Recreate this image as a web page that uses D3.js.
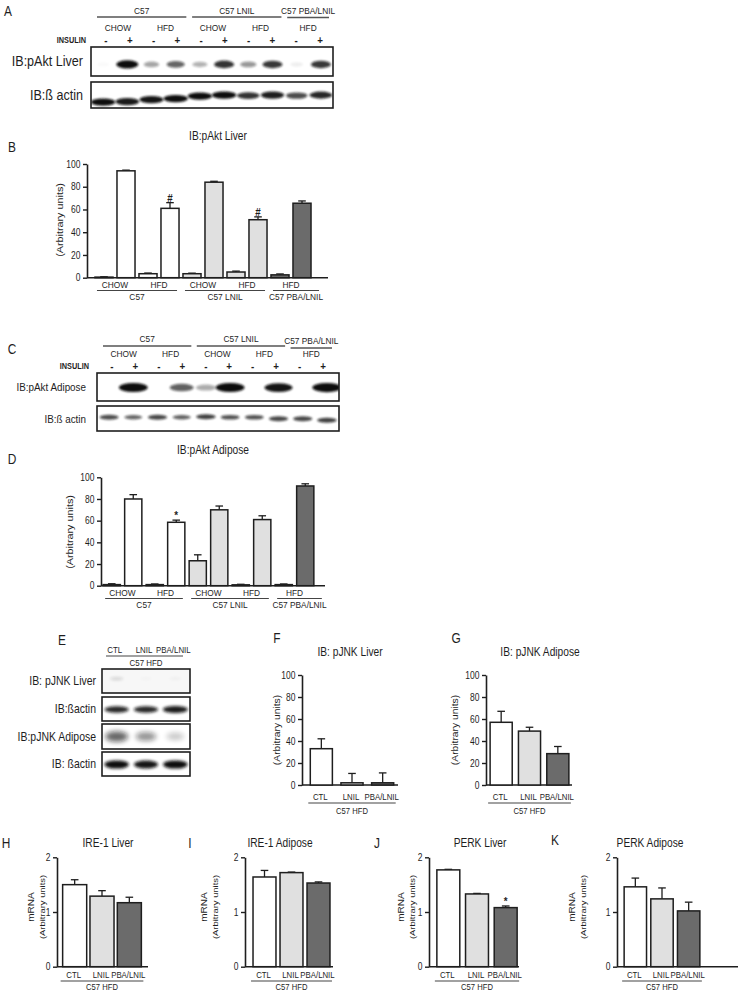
<!DOCTYPE html>
<html><head><meta charset="utf-8">
<script src="https://cdn.jsdelivr.net/npm/d3@7"></script>
<style>
body{margin:0;background:#fff}
svg text{font-family:Arial,"Liberation Sans",Helvetica,sans-serif;fill:#1e1e1e}
</style></head><body>
<svg id="fig" width="740" height="993"></svg>
<script>
// ---------------- DATA ----------------
const strainLabels = ["C57", "C57 LNIL", "C57 PBA/LNIL"];
const strainLaneCounts = [4, 4, 2];
const dietLabels = ["CHOW", "HFD", "CHOW", "HFD", "HFD"];
const insulinSigns = ["-", "+", "-", "+", "-", "+", "-", "+", "-", "+"];
const treatments = ["CTL", "LNIL", "PBA/LNIL"];
const cohortLabel = "C57 HFD";

// western blot band intensities (0..1) per lane
const blotALabels = ["IB:pAkt Liver", "IB:ß actin"];
const pAktLiverBands = [0.02, 1.0, 0.35, 0.6, 0.3, 0.8, 0.4, 0.78, 0.06, 0.78];
const actinLiverBands = [0.95, 0.9, 0.92, 0.95, 0.95, 0.95, 0.8, 0.88, 0.7, 0.85];
const actinLiverDrift = [4, 3.5, 1.5, 0.5, -2, -3, -2.5, -3, -2.5, -3];
const blotCLabels = ["IB:pAkt Adipose", "IB:ß actin"];
const pAktAdiposeBands = [0, 0.98, 0, 0.62, 0.32, 0.98, 0, 0.92, 0, 1.0];
const actinAdiposeBands = [0.7, 0.6, 0.72, 0.62, 0.75, 0.68, 0.68, 0.72, 0.72, 0.75];
const actinAdiposeDrift = [0, 0, 0, 0, -0.5, 0, 0, 1.5, 1.5, 3];
const blotELabels = ["IB: pJNK Liver", "IB:ßactin", "IB:pJNK Adipose", "IB: ßactin"];
const pJNKLiverBands = [0.14, 0.02, 0.03];
const actinE1Bands = [0.85, 0.85, 0.9];
const pJNKAdiposeBands = [0.6, 0.42, 0.2];
const actinE2Bands = [0.95, 0.92, 0.95];

// quantifications
const pAktLiverValues = [0.5, 94, 3.5, 61, 3.5, 84, 5, 51, 2.5, 65.5];
const pAktLiverErrors = [0.3, 0.6, 0.6, 5, 0.5, 0.8, 0.8, 2.5, 0.8, 2];
const pAktLiverMarks = ["", "", "", "#", "", "", "", "#", "", ""];
const pAktAdiposeValues = [1, 80, 1, 58.5, 23, 70, 0.8, 61, 1, 92];
const pAktAdiposeErrors = [0.8, 4, 0.6, 2, 5.5, 3.5, 0.5, 3.5, 0.6, 2];
const pAktAdiposeMarks = ["", "", "", "*", "", "", "", "", "", ""];
const pctTicks = [0, 20, 40, 60, 80, 100];

const pJNKLiverValues = [33, 2, 2];
const pJNKLiverErrors = [9, 8.5, 9];
const pJNKAdiposeValues = [57, 49, 28.5];
const pJNKAdiposeErrors = [10, 3.5, 6.5];

const mrnaTicks = [0, 1, 2];
const ire1LiverValues = [1.5, 1.29, 1.17];
const ire1LiverErrors = [0.09, 0.1, 0.1];
const ire1AdiposeValues = [1.64, 1.72, 1.53];
const ire1AdiposeErrors = [0.12, 0.01, 0.02];
const perkLiverValues = [1.77, 1.33, 1.08];
const perkLiverErrors = [0.01, 0.01, 0.03];
const perkLiverMarks = ["", "", "*"];
const perkAdiposeValues = [1.46, 1.24, 1.02];
const perkAdiposeErrors = [0.16, 0.2, 0.16];

// ---------------- DRAWING ----------------
const svg = d3.select("#fig");
const defs = svg.append("defs");
[1.1, 1.6, 2.4].forEach((s, i) => defs.append("filter").attr("id", "blur" + i)
  .attr("x", "-60%").attr("y", "-150%").attr("width", "220%").attr("height", "400%")
  .append("feGaussianBlur").attr("stdDeviation", s));
const INK = "#1e1e1e";
const COND = 0.85;   // horizontal compression of the original lettering
const fillScale = d3.scaleOrdinal().domain(strainLabels).range(["#ffffff", "#e0e0e0", "#6b6b6b"]);
const treatFill = d3.scaleOrdinal().domain(treatments).range(["#ffffff", "#e0e0e0", "#6b6b6b"]);
const strainOfLane = strainLabels.flatMap((s, i) => d3.range(strainLaneCounts[i]).map(() => s));

function txt(x, y, s, size, anchor = "middle", extra = {}) {
  const t = svg.append("text").attr("x", 0).attr("y", 0).attr("font-size", size)
    .attr("text-anchor", anchor).attr("dominant-baseline", "central").text(s);
  if (extra.weight) t.attr("font-weight", extra.weight);
  if (extra.rotate) t.attr("transform", `translate(${x},${y}) rotate(-90) scale(1,${COND})`);
  else t.attr("transform", `translate(${x},${y}) scale(${extra.plain ? 1 : COND},1)`);
  return t;
}
function hline(x1, x2, y, w = 1.2, color = INK) {
  svg.append("line").attr("x1", x1).attr("x2", x2).attr("y1", y).attr("y2", y)
    .attr("stroke", color).attr("stroke-width", w);
}

// ---- blot header ----
function blotHeader(c) {
  const lx = d3.scalePoint().domain(d3.range(insulinSigns.length)).range(c.signRange);
  let start = 0;
  strainLabels.forEach((s, i) => {
    const a = start, b = start + strainLaneCounts[i] - 1; start += strainLaneCounts[i];
    const xa = lx(a) - c.ext, xb = lx(b) + c.ext;
    txt((xa + xb) / 2, c.yStrain[i], s, 9.8);
    hline(xa, xb, c.yLine[i], 1.3, "#555");
  });
  dietLabels.forEach((d, k) => txt((lx(2 * k) + lx(2 * k + 1)) / 2, c.yDiet, d, 9.8));
  txt(c.insX, c.ySign, "INSULIN", 8.6, "end", {weight: "bold"});
  insulinSigns.forEach((s, i) => txt(lx(i), c.ySign, s, 11.5, "middle", {weight: "bold"}));
}

// ---- blot strip ----
let clipN = 0;
function blot(c) {
  const lane = d3.scaleBand().domain(d3.range(c.bands.length)).range([c.x0, c.x1]);
  const id = "clip" + (clipN++);
  defs.append("clipPath").attr("id", id).append("rect")
    .attr("x", c.x0).attr("y", c.y0).attr("width", c.x1 - c.x0).attr("height", c.y1 - c.y0);
  const g = svg.append("g").attr("clip-path", `url(#${id})`);
  g.append("rect").attr("x", c.x0).attr("y", c.y0).attr("width", c.x1 - c.x0)
    .attr("height", c.y1 - c.y0).attr("fill", c.bg || "#fff");
  g.selectAll("ellipse").data(c.bands).join("ellipse")
    .attr("cx", (d, i) => lane(i) + lane.bandwidth() / 2)
    .attr("cy", (d, i) => c.y0 + (c.y1 - c.y0) * c.yFrac + (c.drift ? c.drift[i] : 0))
    .attr("rx", d => c.rx * (0.55 + 0.45 * d))
    .attr("ry", d => c.ry * (0.5 + 0.5 * d))
    .attr("fill", "#111").attr("opacity", d => Math.min(1, d * 1.05))
    .attr("filter", `url(#blur${c.blur || 0})`);
  svg.append("rect").attr("x", c.x0).attr("y", c.y0).attr("width", c.x1 - c.x0)
    .attr("height", c.y1 - c.y0).attr("fill", "none").attr("stroke", INK).attr("stroke-width", 1.6);
  txt(c.labelX, (c.y0 + c.y1) / 2, c.label, c.labelSize, "end");
}

// ---- bar chart ----
function barChart(c) {
  const y = d3.scaleLinear().domain(c.domain).range([c.yBottom, c.yTop]);
  const x = d3.scaleBand().domain(d3.range(c.values.length)).range(c.band)
    .paddingInner(c.pad).paddingOuter(c.pad / 2);
  const g = svg.append("g");
  const ax = g.append("g").attr("transform", `translate(${c.x0},0)`)
    .call(d3.axisLeft(y).tickValues(c.ticks).tickSize(4).tickSizeOuter(0).tickPadding(2)
      .tickFormat(d3.format("d")));
  ax.select(".domain").attr("stroke", INK).attr("stroke-width", 1.6);
  ax.selectAll(".tick line").attr("stroke", INK).attr("stroke-width", 1.4);
  ax.selectAll(".tick text").attr("font-size", 10).attr("fill", INK)
    .attr("x", 0).attr("transform", `translate(-6.5,0) scale(${COND},1)`)
    .attr("font-family", "Arial, 'Liberation Sans', sans-serif");
  g.append("line").attr("x1", c.x0).attr("x2", c.x1).attr("y1", y(0)).attr("y2", y(0))
    .attr("stroke", INK).attr("stroke-width", 1.6);
  const bw = x.bandwidth();
  g.selectAll(".err").data(c.values).join("g").each(function (v, i) {
    const e = c.errors[i], cx = x(i) + bw / 2;
    const s = d3.select(this);
    s.append("line").attr("x1", cx).attr("x2", cx).attr("y1", y(v)).attr("y2", y(v + e))
      .attr("stroke", INK).attr("stroke-width", 1.3);
    s.append("line").attr("x1", cx - 3.8).attr("x2", cx + 3.8).attr("y1", y(v + e)).attr("y2", y(v + e))
      .attr("stroke", INK).attr("stroke-width", 1.3);
  });
  g.selectAll(".bar").data(c.values).join("rect")
    .attr("x", (d, i) => x(i)).attr("width", bw)
    .attr("y", d => y(d)).attr("height", d => y(0) - y(d))
    .attr("fill", (d, i) => c.fills[i]).attr("stroke", INK).attr("stroke-width", 1.5);
  if (c.marks) c.marks.forEach((m, i) => {
    if (!m) return;
    txt(x(i) + bw / 2, y(c.values[i] + c.errors[i]) - 5, m, 11.5, "middle", {weight: "bold"});
  });
  return {x, y, bw};
}

// ---------------- PANEL A ----------------
txt(8, 11, "A", 14);
blotHeader({signRange: [106, 320], ext: 9, yStrain: [11, 11, 11], yLine: [17, 17, 17.5],
  yDiet: [28], ySign: 40, insX: 86});
blot({x0: 91, x1: 333, y0: 47, y1: 76, bands: pAktLiverBands, rx: 11, ry: 4.2, yFrac: 0.6,
  blur: 0, label: blotALabels[0], labelX: 83, labelSize: 14.8});
blot({x0: 91, x1: 333, y0: 82, y1: 108, bands: actinLiverBands, rx: 12.5, ry: 3.8, yFrac: 0.62,
  drift: actinLiverDrift, blur: 0, label: blotALabels[1], labelX: 83, labelSize: 14.8});

// ---------------- PANEL B ----------------
txt(12, 147, "B", 14);
txt(218, 136, "IB:pAkt Liver", 12);
const B = barChart({x0: 87, x1: 328, yBottom: 277.7, yTop: 164, domain: [0, 100], ticks: pctTicks,
  band: [93, 313], pad: 0.18, values: pAktLiverValues, errors: pAktLiverErrors,
  marks: pAktLiverMarks, fills: strainOfLane.map(s => fillScale(s))});
txt(60, 220, "(Arbitrary units)", 10.8, "middle", {rotate: true});
function groupAxisLabels(ch, yDiet, yLine, yStrain) {
  dietLabels.forEach((d, k) => txt((ch.x(2 * k) + ch.x(2 * k + 1) + ch.bw) / 2, yDiet, d, 9.8));
  let start = 0;
  strainLabels.forEach((s, i) => {
    const a = start, b = start + strainLaneCounts[i] - 1; start += strainLaneCounts[i];
    const xa = ch.x(a) + 2, xb = ch.x(b) + ch.bw + (i === 2 ? 8 : -2);
    hline(xa, xb, yLine, 1.1, "#444");
    txt((xa + xb) / 2, yStrain, s, 9.8);
  });
}
groupAxisLabels(B, 285, 290.5, 297);

// ---------------- PANEL C ----------------
txt(12, 349, "C", 14);
blotHeader({signRange: [112, 323], ext: 9, yStrain: [339, 339, 341], yLine: [346, 346, 348],
  yDiet: [354], ySign: 366, insX: 89});
blot({x0: 97, x1: 339, y0: 373, y1: 401, bands: pAktAdiposeBands, rx: 14.5, ry: 4.6, yFrac: 0.52,
  blur: 0, label: blotCLabels[0], labelX: 86, labelSize: 11.6});
blot({x0: 97, x1: 339, y0: 406, y1: 431, bands: actinAdiposeBands, rx: 11, ry: 2.8, yFrac: 0.45,
  drift: actinAdiposeDrift, blur: 0, label: blotCLabels[1], labelX: 86, labelSize: 11.6});

// ---------------- PANEL D ----------------
txt(12, 459, "D", 14);
txt(213, 450, "IB:pAkt Adipose", 12);
const D = barChart({x0: 101, x1: 325, yBottom: 585.7, yTop: 477.3, domain: [0, 100], ticks: pctTicks,
  band: [101, 316], pad: 0.2, values: pAktAdiposeValues, errors: pAktAdiposeErrors,
  marks: pAktAdiposeMarks, fills: strainOfLane.map(s => fillScale(s))});
txt(70, 532, "(Arbitrary units)", 10.8, "middle", {rotate: true});
groupAxisLabels(D, 593, 598.5, 605);

// ---------------- PANEL E ----------------
txt(62, 640, "E", 14);
const eLane = d3.scaleBand().domain(d3.range(treatments.length)).range([102, 190]);
treatments.forEach((t, i) => txt(eLane(i) + eLane.bandwidth() / 2 - 2, 650, t, 9.3));
hline(106, 183, 656, 1.1, "#444");
txt(146, 663, cohortLabel, 9.3);
blot({x0: 102, x1: 190, y0: 669, y1: 693, bands: pJNKLiverBands, rx: 11, ry: 3, yFrac: 0.4,
  blur: 1, bg: "#f7f7f7", label: blotELabels[0], labelX: 96, labelSize: 12.3});
blot({x0: 102, x1: 190, y0: 697, y1: 721, bands: actinE1Bands, rx: 13, ry: 3.6, yFrac: 0.52,
  blur: 1, label: blotELabels[1], labelX: 96, labelSize: 12.3});
blot({x0: 102, x1: 190, y0: 724, y1: 749, bands: pJNKAdiposeBands, rx: 14, ry: 6.5, yFrac: 0.5,
  blur: 2, label: blotELabels[2], labelX: 96, labelSize: 12.3});
blot({x0: 102, x1: 190, y0: 752, y1: 776, bands: actinE2Bands, rx: 12.5, ry: 4.2, yFrac: 0.52,
  blur: 1, label: blotELabels[3], labelX: 96, labelSize: 12.3});

// ---------------- simple 3-bar charts ----------------
function simpleChart(c) {
  const ch = barChart(Object.assign({fills: treatments.map(t => treatFill(t))}, c));
  treatments.forEach((t, i) => txt(ch.x(i) + ch.bw / 2 - 1, c.labY, t, 9.2));
  const xa = ch.x(0) - 2, xb = ch.x(2) + ch.bw + 2;
  hline(xa, xb, c.lineY, 1.1, "#444");
  txt((xa + xb) / 2, c.lineY + c.cohortGap, cohortLabel, 9);
  return ch;
}
// F
txt(277, 638, "F", 14);
txt(350, 652, "IB: pJNK Liver", 12);
simpleChart({x0: 302, x1: 398, yBottom: 785, yTop: 675, domain: [0, 100], ticks: pctTicks,
  band: [306, 398], pad: 0.28, values: pJNKLiverValues, errors: pJNKLiverErrors,
  labY: 797, lineY: 803, cohortGap: 7.5});
txt(277, 730, "(Arbitrary units)", 10.3, "middle", {rotate: true});
// G
txt(456, 638, "G", 14);
txt(540, 652, "IB: pJNK Adipose", 12);
simpleChart({x0: 486, x1: 572, yBottom: 785, yTop: 675, domain: [0, 100], ticks: pctTicks,
  band: [487, 572], pad: 0.22, values: pJNKAdiposeValues, errors: pJNKAdiposeErrors,
  labY: 797, lineY: 803, cohortGap: 7.5});
txt(455, 730, "(Arbitrary units)", 10.3, "middle", {rotate: true});

// H-K
const mY = {yBottom: 966.7, yTop: 857.3, domain: [0, 2], ticks: mrnaTicks, labY: 975,
  lineY: 981, cohortGap: 6};
function mrnaLabel(x) {
  txt(x, 907, "mRNA", 10, "middle", {rotate: true});
  txt(x + 11, 907, "(Arbitrary units)", 9.4, "middle", {rotate: true});
}
txt(6, 843, "H", 14);
txt(108, 843, "IRE-1 Liver", 12);
simpleChart(Object.assign({x0: 57, x1: 148, band: [61, 143], pad: 0.12,
  values: ire1LiverValues, errors: ire1LiverErrors}, mY));
mrnaLabel(31);

txt(190, 843, "I", 14);
txt(280, 843, "IRE-1 Adipose", 12);
simpleChart(Object.assign({x0: 245, x1: 333, band: [251, 332], pad: 0.15,
  values: ire1AdiposeValues, errors: ire1AdiposeErrors}, mY));
mrnaLabel(204);

txt(377, 843, "J", 14);
txt(480, 843, "PERK Liver", 12);
simpleChart(Object.assign({x0: 429, x1: 519, band: [434, 520], pad: 0.2,
  values: perkLiverValues, errors: perkLiverErrors, marks: perkLiverMarks}, mY));
mrnaLabel(401);

txt(555, 840, "K", 14);
txt(650, 843, "PERK Adipose", 12);
simpleChart(Object.assign({x0: 617, x1: 738, band: [622, 702], pad: 0.16,
  values: perkAdiposeValues, errors: perkAdiposeErrors}, mY));
mrnaLabel(572);
</script>
</body></html>
